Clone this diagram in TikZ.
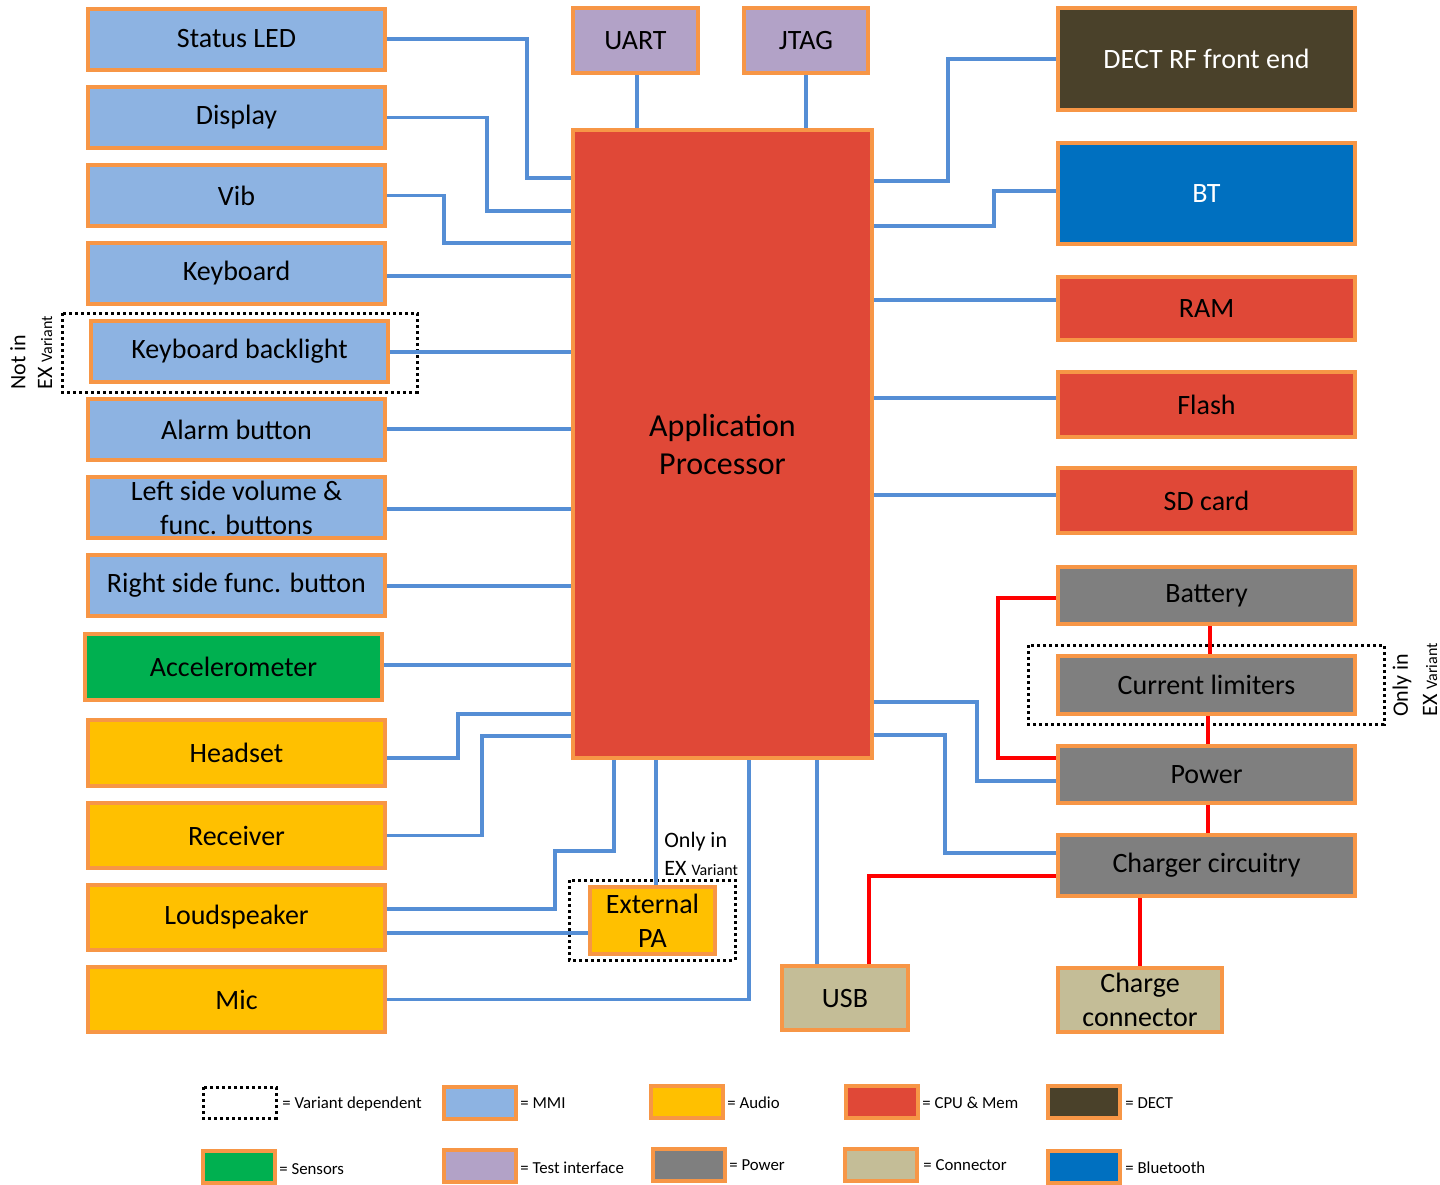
\documentclass[tikz,border=0pt]{standalone}
\usepackage{fontspec}
\setmainfont{Carlito}
\usetikzlibrary{shadows}

\definecolor{mmiblue}{HTML}{8DB3E2}
\definecolor{testpurple}{HTML}{B2A2C7}
\definecolor{audioyellow}{HTML}{FFC000}
\definecolor{cpured}{HTML}{E04837}
\definecolor{dectbrown}{HTML}{4A412A}
\definecolor{sensgreen}{HTML}{00B050}
\definecolor{powergray}{HTML}{7F7F7F}
\definecolor{conntan}{HTML}{C4BD97}
\definecolor{btblue}{HTML}{0070C0}
\definecolor{rimorange}{HTML}{F79646}
\definecolor{busblue}{HTML}{558ED5}

\tikzset{
  blk/.style={draw=rimorange, line width=2pt, inner sep=0pt, align=center,
    font=\fontsize{14}{17}\selectfont,
    drop shadow={opacity=0.3, shadow xshift=1.2pt, shadow yshift=-1.2pt}},
  mmi/.style={blk, fill=mmiblue},
  test/.style={blk, fill=testpurple},
  audio/.style={blk, fill=audioyellow},
  cpu/.style={blk, fill=cpured},
  dect/.style={blk, fill=dectbrown, text=white},
  sens/.style={blk, fill=sensgreen},
  pow/.style={blk, fill=powergray},
  conn/.style={blk, fill=conntan},
  btooth/.style={blk, fill=btblue, text=white},
  leftblk/.style={minimum width=148.5pt, minimum height=30.5pt},
  rightblk/.style={minimum width=148.5pt, minimum height=32pt},
  legbox/.style={minimum width=36pt, minimum height=16pt, line width=1.8pt},
  legtxt/.style={anchor=west, inner sep=0pt, font=\fontsize{8.4}{10}\selectfont},
  note/.style={inner sep=0pt, font=\fontsize{11}{14}\selectfont},
  variant/.style={line width=1.5pt, dash pattern=on 1.5pt off 1.5pt},
  bus/.style={busblue, line width=1.7pt},
  pline/.style={red, line width=1.7pt}
}
\newcommand{\smallvar}{{\fontsize{8}{9}\selectfont Variant}}

\begin{document}
\begin{tikzpicture}[x=0.5pt, y=-0.5pt]
\useasboundingbox (0,0) rectangle (1440,1184);

% left column
\node[mmi, leftblk] (led) at (236.5,39) {Status LED};
\node[mmi, leftblk] (disp) at (236.5,117.5) {Display};
\node[mmi, leftblk] (vib) at (236.5,195.5) {Vib};
\node[mmi, leftblk] (kbd) at (236.5,273.5) {Keyboard};
\node[mmi, leftblk] (kbl) at (239.5,351.5) {Keyboard backlight};
\node[mmi, leftblk] (alarm) at (236.5,429.5) {Alarm button};
\node[mmi, leftblk] (lside) at (236.5,507.5) {Left side volume \&\\func. buttons};
\node[mmi, leftblk] (rside) at (236.5,585.5) {Right side func. button};
\node[sens, leftblk, minimum height=33pt] (accel) at (233.5,667) {Accelerometer};
\node[audio, leftblk, minimum height=33pt] (hset) at (236.5,752.5) {Headset};
\node[audio, leftblk, minimum height=32.5pt] (rcv) at (236.5,835.5) {Receiver};
\node[audio, leftblk, minimum height=32.5pt] (spk) at (236.5,917.5) {Loudspeaker};
\node[audio, leftblk, minimum height=32.5pt] (mic) at (236.5,999.5) {Mic};

% test ports and processor
\node[test, minimum width=62.5pt, minimum height=32.5pt] (uart) at (635.5,40.5) {UART};
\node[test, minimum width=62pt, minimum height=32.5pt] (jtag) at (806,40.5) {JTAG};
\node[cpu, minimum width=149.5pt, minimum height=314pt,
      font=\fontsize{16}{19}\selectfont] (ap) at (722.5,444) {Application\\Processor};

% right column
\node[dect, rightblk, minimum height=51pt] (rf) at (1206.5,59) {DECT RF front end};
\node[btooth, rightblk, minimum height=50.5pt] (bt) at (1206.5,193.5) {BT};
\node[cpu, rightblk, minimum height=31.5pt] (ram) at (1206.5,308.5) {RAM};
\node[cpu, rightblk, minimum height=32.5pt] (flash) at (1206.5,404.5) {Flash};
\node[cpu, rightblk, minimum height=32.5pt] (sd) at (1206.5,500.5) {SD card};
\node[pow, rightblk, minimum height=28.5pt] (batt) at (1206.5,595.5) {Battery};
\node[pow, rightblk, minimum height=29pt] (curlim) at (1206.5,685) {Current limiters};
\node[pow, rightblk, minimum height=28.5pt] (pwr) at (1206.5,774.5) {Power};
\node[pow, rightblk, minimum height=30.5pt] (chg) at (1206.5,865.5) {Charger circuitry};
\node[conn, minimum width=82pt, minimum height=32pt] (chgconn) at (1140,1000) {Charge\\connector};
\node[conn, minimum width=63pt, minimum height=32pt] (usb) at (845,998) {USB};
\node[audio, minimum width=62.5pt, minimum height=33.5pt] (extpa) at (652.5,920.5) {External\\PA};

% variant frames and notes
\draw[variant] (62,313) rectangle (417,392);
\draw[variant] (1028,645) rectangle (1384,724);
\draw[variant] (569,880) rectangle (735,960);
\node[note, rotate=90, anchor=west] (notin) at (18,390) {Not in};
\node[note, rotate=90, anchor=west] (notinex) at (45,390) {EX \smallvar};
\node[note, rotate=90, anchor=west] (onlyin) at (1402,717) {Only in};
\node[note, rotate=90, anchor=west] (onlyinex) at (1430,717) {EX \smallvar};
\node[note, anchor=west, align=left] (onlypa) at (664,854) {Only in\\EX \smallvar};

% blue connectors, left
\draw[bus] (led.east) -| (527,178) -- (ap.west |- 0,178);
\draw[bus] (disp.east) -| (487,211) -- (ap.west |- 0,211);
\draw[bus] (vib.east) -| (444,243) -- (ap.west |- 0,243);
\foreach \n/\y in {kbd/276, kbl/352, alarm/429, lside/509, rside/586, accel/665}
  \draw[bus] (\n.east |- 0,\y) -- (ap.west |- 0,\y);
\draw[bus] (hset.east |- 0,758) -| (458,714) -- (ap.west |- 0,714);
\draw[bus] (rcv.east) -| (482,736) -- (ap.west |- 0,736);
\draw[bus] (spk.east |- 0,909) -| (555,851) -| (ap.south -| 614,0);
\draw[bus] (spk.east |- 0,933) -- (extpa.west |- 0,933);
\draw[bus] (extpa.north -| 656,0) -- (ap.south -| 656,0);
\draw[bus] (mic.east) -| (ap.south -| 749,0);
\draw[bus] (usb.north -| 817,0) -- (ap.south -| 817,0);
\draw[bus] (uart.south -| 637,0) -- (ap.north -| 637,0);
\draw[bus] (jtag.south) -- (ap.north -| jtag.south);

% blue connectors, right
\draw[bus] (ap.east |- 0,181) -| (948,59) -- (rf.west);
\draw[bus] (ap.east |- 0,226) -| (994,191) -- (bt.west |- 0,191);
\foreach \n/\y in {ram/300, flash/398, sd/495}
  \draw[bus] (ap.east |- 0,\y) -- (\n.west |- 0,\y);
\draw[bus] (ap.east |- 0,702) -| (977,781) -- (pwr.west |- 0,781);
\draw[bus] (ap.east |- 0,735) -| (945,853) -- (chg.west |- 0,853);

% power lines
\draw[pline] (batt.west |- 0,598) -| (998,758) -- (pwr.west |- 0,758);
\draw[pline] (batt.south -| 1210,0) -- (curlim.north -| 1210,0);
\draw[pline] (curlim.south -| 1208,0) -- (pwr.north -| 1208,0);
\draw[pline] (pwr.south -| 1208,0) -- (chg.north -| 1208,0);
\draw[pline] (chg.west |- 0,876) -| (usb.north -| 869,0);
\draw[pline] (chg.south -| 1140,0) -- (chgconn.north);

% legend
\draw[variant] (203,1087) rectangle (276,1118);
\node[legtxt] (lgvar) at (282,1104) {= Variant dependent};
\node[mmi, legbox] (lgmmi) at (480,1103) {};
\node[legtxt] (lgmmit) at (520,1103) {= MMI};
\node[audio, legbox] (lgaud) at (687,1102) {};
\node[legtxt] (lgaudt) at (727,1103) {= Audio};
\node[cpu, legbox] (lgcpu) at (882,1102) {};
\node[legtxt] (lgcput) at (922,1103) {= CPU \& Mem};
\node[dect, legbox] (lgdect) at (1084,1102) {};
\node[legtxt] (lgdectt) at (1125,1103) {= DECT};
\node[sens, legbox] (lgsens) at (239,1167) {};
\node[legtxt] (lgsenst) at (279,1169) {= Sensors};
\node[test, legbox] (lgtest) at (480,1166) {};
\node[legtxt] (lgtestt) at (520,1168) {= Test interface};
\node[pow, legbox] (lgpow) at (689,1165) {};
\node[legtxt] (lgpowt) at (729,1165) {= Power};
\node[conn, legbox] (lgconn) at (881,1165) {};
\node[legtxt] (lgconnt) at (923,1165) {= Connector};
\node[btooth, legbox] (lgbt) at (1084,1167) {};
\node[legtxt] (lgbtt) at (1125,1168) {= Bluetooth};
\end{tikzpicture}
\end{document}
